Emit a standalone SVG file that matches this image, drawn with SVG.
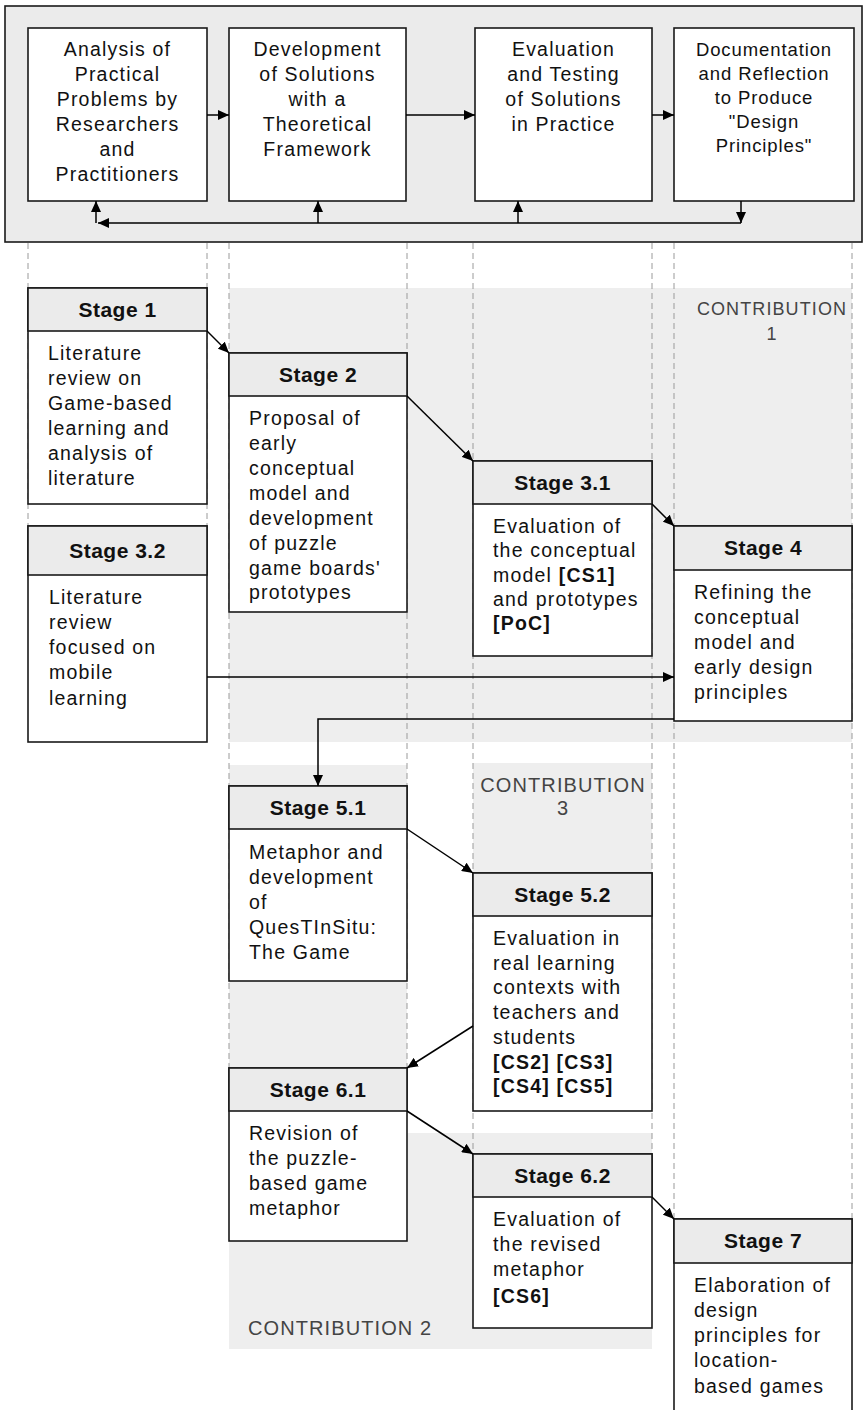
<svg xmlns="http://www.w3.org/2000/svg" width="864" height="1410" viewBox="0 0 864 1410">
  <style>
    text { font-family: "Liberation Sans", Arial, sans-serif; fill: #111; }
    .t { font-size: 19.5px; letter-spacing: 1.2px; }
    .tc { font-size: 19.5px; letter-spacing: 1.2px; text-anchor: middle; }
    .t4 { font-size: 18.5px; letter-spacing: 0.9px; text-anchor: middle; }
    .h { font-size: 21px; font-weight: bold; letter-spacing: 0.5px; text-anchor: middle; }
    .b { font-weight: bold; }
    .contrib { fill: #444; letter-spacing: 1.1px; }
    .panel { fill: #ebebeb; stroke: #1a1a1a; stroke-width: 1.6; }
    .box { fill: #fff; stroke: #1a1a1a; stroke-width: 1.6; }
    .head { fill: #ebebeb; stroke: #1a1a1a; stroke-width: 1.6; }
    .band { fill: #eeeeee; }
    .guide { stroke: #9a9a9a; stroke-width: 1; stroke-dasharray: 6 4; fill: none; }
    .link { stroke: #000; stroke-width: 1.5; fill: none; marker-end: url(#arrow); }
    .plain { stroke: #000; stroke-width: 1.5; fill: none; }
  </style>
  <defs>
    <marker id="arrow" markerUnits="userSpaceOnUse" markerWidth="12" markerHeight="10" refX="11" refY="5" orient="auto">
      <path d="M0,0 L11,5 L0,10 z" fill="#000"/>
    </marker>
  </defs>

  <!-- contribution bands -->
  <g id="bands">
    <rect class="band" x="229" y="288" width="623" height="454"/>
    <rect class="band" x="229" y="765" width="178" height="584"/>
    <rect class="band" x="407" y="1133" width="245" height="216"/>
    <rect class="band" x="473" y="763" width="179" height="348"/>
  </g>

  <!-- column guides -->
  <g id="guides">
    <line class="guide" x1="28" y1="243" x2="28" y2="526"/>
    <line class="guide" x1="207" y1="243" x2="207" y2="526"/>
    <line class="guide" x1="229" y1="243" x2="229" y2="1068"/>
    <line class="guide" x1="407" y1="243" x2="407" y2="1068"/>
    <line class="guide" x1="473" y1="243" x2="473" y2="1154"/>
    <line class="guide" x1="652" y1="243" x2="652" y2="1154"/>
    <line class="guide" x1="674" y1="243" x2="674" y2="1219"/>
    <line class="guide" x1="852" y1="243" x2="852" y2="1219"/>
  </g>

  <!-- contribution labels -->
  <g id="contrib-labels">
    <text class="contrib" x="772" y="315" font-size="18" text-anchor="middle" letter-spacing="1">CONTRIBUTION</text>
    <text class="contrib" x="772" y="340" font-size="18" text-anchor="middle">1</text>
    <text class="contrib" x="563" y="792" font-size="20" text-anchor="middle">CONTRIBUTION</text>
    <text class="contrib" x="563" y="815" font-size="20" text-anchor="middle">3</text>
    <text class="contrib" x="248" y="1335" font-size="20">CONTRIBUTION 2</text>
  </g>

  <!-- design-based research cycle panel -->
  <g id="cycle-panel">
    <rect class="panel" x="5" y="6" width="857" height="236"/>
  </g>
  <g id="phase-analysis">
    <rect class="box" x="28" y="28" width="179" height="173"/>
    <text class="tc" x="117.5" y="56">Analysis of</text>
    <text class="tc" x="117.5" y="81">Practical</text>
    <text class="tc" x="117.5" y="106">Problems by</text>
    <text class="tc" x="117.5" y="131">Researchers</text>
    <text class="tc" x="117.5" y="156">and</text>
    <text class="tc" x="117.5" y="181">Practitioners</text>
  </g>
  <g id="phase-development">
    <rect class="box" x="229" y="28" width="177" height="173"/>
    <text class="tc" x="317.5" y="56">Development</text>
    <text class="tc" x="317.5" y="81">of Solutions</text>
    <text class="tc" x="317.5" y="106">with a</text>
    <text class="tc" x="317.5" y="131">Theoretical</text>
    <text class="tc" x="317.5" y="156">Framework</text>
  </g>
  <g id="phase-evaluation">
    <rect class="box" x="475" y="28" width="177" height="173"/>
    <text class="tc" x="563.5" y="56">Evaluation</text>
    <text class="tc" x="563.5" y="81">and Testing</text>
    <text class="tc" x="563.5" y="106">of Solutions</text>
    <text class="tc" x="563.5" y="131">in Practice</text>
  </g>
  <g id="phase-documentation">
    <rect class="box" x="674" y="28" width="180" height="173"/>
    <text class="t4" x="764" y="56">Documentation</text>
    <text class="t4" x="764" y="80">and Reflection</text>
    <text class="t4" x="764" y="104">to Produce</text>
    <text class="t4" x="764" y="128">"Design</text>
    <text class="t4" x="764" y="152">Principles"</text>
  </g>

  <!-- stages -->
  <g id="stage-1">
    <rect class="box" x="28" y="288" width="179" height="216"/>
    <rect class="head" x="28" y="288" width="179" height="43"/>
    <text class="h" x="117.5" y="317">Stage 1</text>
    <text class="t" x="48" y="360">Literature</text>
    <text class="t" x="48" y="385">review on</text>
    <text class="t" x="48" y="410">Game-based</text>
    <text class="t" x="48" y="435">learning and</text>
    <text class="t" x="48" y="460">analysis of</text>
    <text class="t" x="48" y="485">literature</text>
  </g>
  <g id="stage-2">
    <rect class="box" x="229" y="353" width="178" height="259"/>
    <rect class="head" x="229" y="353" width="178" height="43"/>
    <text class="h" x="318" y="382">Stage 2</text>
    <text class="t" x="249" y="425">Proposal of</text>
    <text class="t" x="249" y="450">early</text>
    <text class="t" x="249" y="475">conceptual</text>
    <text class="t" x="249" y="500">model and</text>
    <text class="t" x="249" y="525">development</text>
    <text class="t" x="249" y="550">of puzzle</text>
    <text class="t" x="249" y="575">game boards'</text>
    <text class="t" x="249" y="599">prototypes</text>
  </g>
  <g id="stage-3-1">
    <rect class="box" x="473" y="461" width="179" height="195"/>
    <rect class="head" x="473" y="461" width="179" height="43"/>
    <text class="h" x="562.5" y="490">Stage 3.1</text>
    <text class="t" x="493" y="533">Evaluation of</text>
    <text class="t" x="493" y="557">the conceptual</text>
    <text class="t" x="493" y="582">model <tspan class="b">[CS1]</tspan></text>
    <text class="t" x="493" y="606">and prototypes</text>
    <text class="t b" x="493" y="630">[PoC]</text>
  </g>
  <g id="stage-3-2">
    <rect class="box" x="28" y="526" width="179" height="216"/>
    <rect class="head" x="28" y="526" width="179" height="49"/>
    <text class="h" x="117.5" y="558">Stage 3.2</text>
    <text class="t" x="49" y="604">Literature</text>
    <text class="t" x="49" y="629">review</text>
    <text class="t" x="49" y="654">focused on</text>
    <text class="t" x="49" y="679">mobile</text>
    <text class="t" x="49" y="705">learning</text>
  </g>
  <g id="stage-4">
    <rect class="box" x="674" y="526" width="178" height="195"/>
    <rect class="head" x="674" y="526" width="178" height="44"/>
    <text class="h" x="763" y="555">Stage 4</text>
    <text class="t" x="694" y="599">Refining the</text>
    <text class="t" x="694" y="624">conceptual</text>
    <text class="t" x="694" y="649">model and</text>
    <text class="t" x="694" y="674">early design</text>
    <text class="t" x="694" y="699">principles</text>
  </g>
  <g id="stage-5-1">
    <rect class="box" x="229" y="786" width="178" height="195"/>
    <rect class="head" x="229" y="786" width="178" height="43"/>
    <text class="h" x="318" y="815">Stage 5.1</text>
    <text class="t" x="249" y="859">Metaphor and</text>
    <text class="t" x="249" y="884">development</text>
    <text class="t" x="249" y="909">of</text>
    <text class="t" x="249" y="934">QuesTInSitu:</text>
    <text class="t" x="249" y="959">The Game</text>
  </g>
  <g id="stage-5-2">
    <rect class="box" x="473" y="873" width="179" height="238"/>
    <rect class="head" x="473" y="873" width="179" height="43"/>
    <text class="h" x="562.5" y="902">Stage 5.2</text>
    <text class="t" x="493" y="945">Evaluation in</text>
    <text class="t" x="493" y="970">real learning</text>
    <text class="t" x="493" y="994">contexts with</text>
    <text class="t" x="493" y="1019">teachers and</text>
    <text class="t" x="493" y="1044">students</text>
    <text class="t b" x="493" y="1069">[CS2] [CS3]</text>
    <text class="t b" x="493" y="1093">[CS4] [CS5]</text>
  </g>
  <g id="stage-6-1">
    <rect class="box" x="229" y="1068" width="178" height="173"/>
    <rect class="head" x="229" y="1068" width="178" height="43"/>
    <text class="h" x="318" y="1097">Stage 6.1</text>
    <text class="t" x="249" y="1140">Revision of</text>
    <text class="t" x="249" y="1165">the puzzle-</text>
    <text class="t" x="249" y="1190">based game</text>
    <text class="t" x="249" y="1215">metaphor</text>
  </g>
  <g id="stage-6-2">
    <rect class="box" x="473" y="1154" width="179" height="174"/>
    <rect class="head" x="473" y="1154" width="179" height="43"/>
    <text class="h" x="562.5" y="1183">Stage 6.2</text>
    <text class="t" x="493" y="1226">Evaluation of</text>
    <text class="t" x="493" y="1251">the revised</text>
    <text class="t" x="493" y="1276">metaphor</text>
    <text class="t b" x="493" y="1303">[CS6]</text>
  </g>
  <g id="stage-7">
    <rect class="box" x="674" y="1219" width="178" height="200"/>
    <rect class="head" x="674" y="1219" width="178" height="44"/>
    <text class="h" x="763" y="1248">Stage 7</text>
    <text class="t" x="694" y="1292">Elaboration of</text>
    <text class="t" x="694" y="1317">design</text>
    <text class="t" x="694" y="1342">principles for</text>
    <text class="t" x="694" y="1367">location-</text>
    <text class="t" x="694" y="1393">based games</text>
  </g>

  <!-- connectors -->
  <g id="connectors">
    <!-- cycle -->
    <line class="link" x1="207" y1="115" x2="229" y2="115"/>
    <line class="link" x1="406" y1="115" x2="475" y2="115"/>
    <line class="link" x1="652" y1="115" x2="674" y2="115"/>
    <line class="link" x1="741" y1="201" x2="741" y2="223"/>
    <line class="link" x1="741" y1="223" x2="98" y2="223"/>
    <line class="link" x1="96" y1="223" x2="96" y2="201"/>
    <line class="link" x1="318" y1="223" x2="318" y2="201"/>
    <line class="link" x1="518" y1="223" x2="518" y2="201"/>
    <!-- stage sequence -->
    <line class="link" x1="207" y1="331" x2="229" y2="353"/>
    <line class="link" x1="407" y1="396" x2="473" y2="461"/>
    <line class="link" x1="652" y1="504" x2="674" y2="526"/>
    <line class="link" x1="207" y1="677" x2="674" y2="677"/>
    <polyline class="link" points="674,719 318,719 318,786"/>
    <line class="link" x1="407" y1="829" x2="473" y2="873"/>
    <line class="link" x1="473" y1="1026" x2="407" y2="1068"/>
    <line class="link" x1="407" y1="1111" x2="473" y2="1154"/>
    <line class="link" x1="652" y1="1197" x2="674" y2="1219"/>
  </g>
</svg>
